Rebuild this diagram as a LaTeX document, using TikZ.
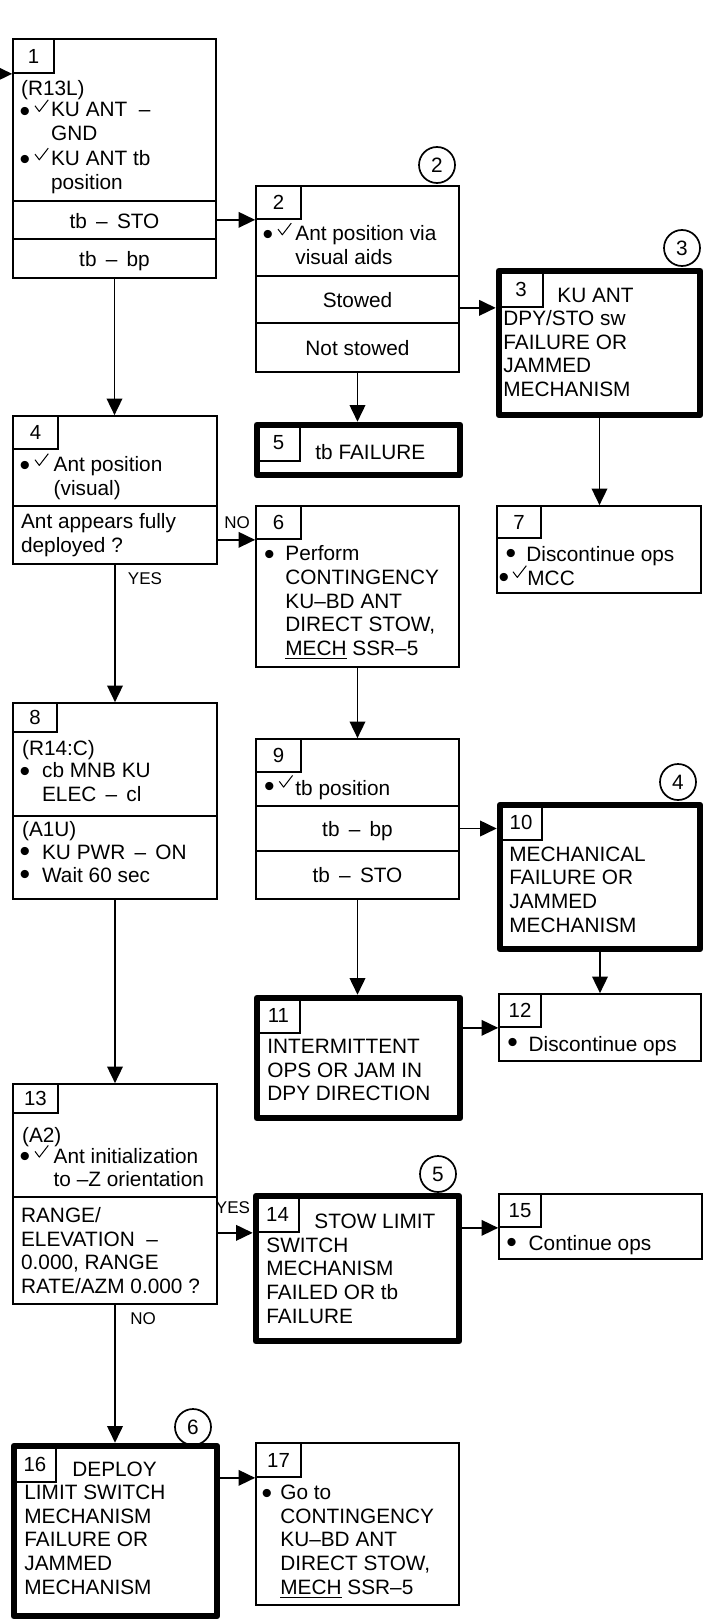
\documentclass[tikz,border=0pt]{standalone}
\usepackage{fontspec}
\setmainfont{Liberation Sans}
\usepackage{graphicx}
\usetikzlibrary{arrows.meta,fit,calc}
\newcommand\bul{\raisebox{-1.0pt}{\scalebox{1.45}{\textbullet}}}
\newcommand\dsh{\ \,–\ \,}
\tikzset{
  box/.style={draw, line width=0.85pt, inner sep=0pt},
  tbox/.style={draw, line width=3.3pt, line join=round, inner sep=0pt},
  txt/.style={anchor=north west, yshift=8.5pt, inner sep=0pt, align=left,
    font=\fontsize{10.4}{11.8}\selectfont, execute at begin node={\rule{0pt}{8.5pt}}},
  ctxt/.style={anchor=base, inner sep=0pt, font=\fontsize{10.4}{11.8}\selectfont},
  num/.style={inner sep=0pt, font=\fontsize{10.2}{12}\selectfont},
  lbl/.style={inner sep=0pt, font=\fontsize{8.5}{10}\selectfont},
  circ/.style={draw, circle, line width=0.85pt, minimum size=18pt, inner sep=0pt, font=\fontsize{10.4}{12}\selectfont},
  arr/.style={line width=0.85pt, -{Triangle[length=8.3pt,width=7.8pt]}},
  chk/.pic={\draw[line width=0.5pt, line join=round] (0,6) -- (4.3,11.7) -- (13.3,0);},
}
\begin{document}
\begin{tikzpicture}[x=0.5pt,y=-0.5pt]
\useasboundingbox (0,0) rectangle (703,1621);
\clip (0,0) rectangle (703,1621);
\fill[white] (0,0) rectangle (703,1621);

% ---- Box 1
\node[box, fit={(13,39) (216,201)}] (b1a) {};
\node[box, fit={(13,201) (216,239)}] (b1b) {};
\node[box, fit={(13,239) (216,278)}] (b1c) {};
\node[box, fit={(13,39) (54,73)}] (b1n) {};
\node[num] (b1nt) at (b1n) {1};
\node[txt] (t1a) at (20.7,95.4) {(R13L)};
\node[ctxt] (m1a) at (25,119.1) {\bul};
\pic at ([xshift=5pt,yshift=9.65pt]m1a.base) {chk};
\node[txt] (t1b) at (50.7,119.1) {KU ANT~~–\\GND};
\node[ctxt] (m1b) at (25,167.4) {\bul};
\pic at ([xshift=5pt,yshift=9.65pt]m1b.base) {chk};
\node[txt] (t1c) at (50.7,167.4) {KU ANT tb\\position};
\node[ctxt] (t1d) at (114.5,228.4) {tb\dsh STO};
\node[ctxt] (t1e) at (114.5,266) {tb\dsh bp};

% ---- Box 2
\node[box, fit={(256,186) (459,276)}] (b2a) {};
\node[box, fit={(256,276) (459,323)}] (b2b) {};
\node[box, fit={(256,323) (459,372)}] (b2c) {};
\node[box, fit={(256,186) (301,219)}] (b2n) {};
\node[num] (b2nt) at (b2n) {2};
\node[circ] (c2) at (437,165) {2};
\node[ctxt] (m2) at (268,242.4) {\bul};
\pic at ([xshift=5pt,yshift=9.65pt]m2.base) {chk};
\node[txt] (t2a) at (295,242.4) {Ant position via\\visual aids};
\node[ctxt] (t2b) at (357.5,307) {Stowed};
\node[ctxt] (t2c) at (357.5,355) {Not stowed};

% ---- Box 3
\node[tbox, fit={(499,271) (700,415)}] (b3) {};
\node[box, fit={(499,271) (543,307)}] (b3n) {};
\node[num] (b3nt) at (b3n) {3};
\node[circ] (c3) at (682,248) {3};
\node[txt] (t3) at (503,304.4) {\hspace*{27pt}KU ANT\\DPY/STO sw\\FAILURE OR\\JAMMED\\MECHANISM};

% ---- Box 4
\node[box, fit={(13,416) (217,506)}] (b4a) {};
\node[box, fit={(13,506) (217,564)}] (b4b) {};
\node[box, fit={(13,416) (58,449)}] (b4n) {};
\node[num] (b4nt) at (b4n) {4};
\node[ctxt] (m4) at (25,473) {\bul};
\pic at ([xshift=5pt,yshift=9.65pt]m4.base) {chk};
\node[txt] (t4a) at (53.3,473) {Ant position\\(visual)};
\node[txt] (t4b) at (20.7,530.4) {Ant appears fully\\deployed ?};

% ---- Box 5
\node[tbox, fit={(257,425) (460,475)}] (b5) {};
\node[box, fit={(257,425) (300,461)}] (b5n) {};
\node[num] (b5nt) at (b5n) {5};
\node[txt] (t5) at (315,459) {tb FAILURE};

% ---- Box 6
\node[box, fit={(256,506) (459,667)}] (b6) {};
\node[box, fit={(256,506) (301,539)}] (b6n) {};
\node[num] (b6nt) at (b6n) {6};
\node[ctxt] (u6) at (269.3,562.4) {\bul};
\node[txt] (t6) at (285,562.4) {Perform\\CONTINGENCY\\KU–BD ANT\\DIRECT STOW,\\\underline{MECH} SSR–5};

% ---- Box 7
\node[box, fit={(497,506) (701,593)}] (b7) {};
\node[box, fit={(497,506) (541,538)}] (b7n) {};
\node[num] (b7nt) at (b7n) {7};
\node[ctxt] (u7) at (511,561.4) {\bul};
\node[txt] (t7a) at (526,561.4) {Discontinue ops};
\node[ctxt] (m7) at (504,585) {\bul};
\pic at ([xshift=4.5pt,yshift=9.65pt]m7.base) {chk};
\node[txt] (t7b) at (527,585) {MCC};

% ---- Box 8
\node[box, fit={(13,703) (217,816)}] (b8a) {};
\node[box, fit={(13,816) (217,899)}] (b8b) {};
\node[box, fit={(13,703) (57,732)}] (b8n) {};
\node[num] (b8nt) at (b8n) {8};
\node[txt] (t8a) at (21.7,754.7) {(R14:C)};
\node[ctxt] (u8a) at (25,779.1) {\bul};
\node[txt] (t8b) at (41.7,779.1) {cb MNB KU\\ELEC\dsh cl};
\node[txt] (t8c) at (21.7,835.7) {(A1U)};
\node[ctxt] (u8b) at (25,859.1) {\bul};
\node[txt] (t8d) at (41.7,859.1) {KU PWR\dsh ON};
\node[ctxt] (u8c) at (25,882.4) {\bul};
\node[txt] (t8e) at (41.7,882.4) {Wait 60 sec};

% ---- Box 9
\node[box, fit={(256,739) (459,806)}] (b9a) {};
\node[box, fit={(256,806) (459,851)}] (b9b) {};
\node[box, fit={(256,851) (459,899)}] (b9c) {};
\node[box, fit={(256,739) (301,772)}] (b9n) {};
\node[num] (b9nt) at (b9n) {9};
\node[ctxt] (m9) at (269.3,794.7) {\bul};
\pic at ([xshift=5pt,yshift=9.65pt]m9.base) {chk};
\node[txt] (t9a) at (295,794.7) {tb position};
\node[ctxt] (t9b) at (357.5,836) {tb\dsh bp};
\node[ctxt] (t9c) at (357.5,882.4) {tb\dsh STO};

% ---- Box 10
\node[tbox, fit={(500,805) (700,949)}] (b10) {};
\node[box, fit={(500,805) (542,840)}] (b10n) {};
\node[num] (b10nt) at (b10n) {10};
\node[circ] (c4) at (678,782) {4};
\node[txt] (t10) at (509,863.4) {MECHANICAL\\FAILURE OR\\JAMMED\\MECHANISM};

% ---- Box 11
\node[tbox, fit={(257,998) (460,1118)}] (b11) {};
\node[box, fit={(257,998) (300,1033)}] (b11n) {};
\node[num] (b11nt) at (b11n) {11};
\node[txt] (t11) at (267,1055.7) {INTERMITTENT\\OPS OR JAM IN\\DPY DIRECTION};

% ---- Box 12
\node[box, fit={(499,994) (701,1061)}] (b12) {};
\node[box, fit={(499,994) (541,1027)}] (b12n) {};
\node[num] (b12nt) at (b12n) {12};
\node[ctxt] (u12) at (512.7,1050.7) {\bul};
\node[txt] (t12) at (528.3,1050.7) {Discontinue ops};

% ---- Box 13
\node[box, fit={(13,1084) (217,1197)}] (b13a) {};
\node[box, fit={(13,1197) (217,1304)}] (b13b) {};
\node[box, fit={(13,1084) (58,1113)}] (b13n) {};
\node[num] (b13nt) at (b13n) {13};
\node[txt] (t13a) at (21.7,1142.4) {(A2)};
\node[ctxt] (m13) at (25,1164.7) {\bul};
\pic at ([xshift=5pt,yshift=9.65pt]m13.base) {chk};
\node[txt] (t13b) at (53.3,1164.7) {Ant initialization\\to –Z orientation};
\node[txt] (t13c) at (20.7,1224.1) {RANGE/\\ELEVATION~~–\\0.000, RANGE\\RATE/AZM 0.000 ?};

% ---- Box 14
\node[tbox, fit={(256,1196) (459,1341)}] (b14) {};
\node[box, fit={(256,1196) (299,1232)}] (b14n) {};
\node[num] (b14nt) at (b14n) {14};
\node[circ] (c5) at (438,1174) {5};
\node[txt] (t14) at (266,1230.7) {\hspace*{24pt}STOW LIMIT\\SWITCH\\MECHANISM\\FAILED OR tb\\FAILURE};

% ---- Box 15
\node[box, fit={(499,1194) (702,1259)}] (b15) {};
\node[box, fit={(499,1194) (541,1227)}] (b15n) {};
\node[num] (b15nt) at (b15n) {15};
\node[ctxt] (u15) at (511.7,1250.1) {\bul};
\node[txt] (t15) at (528.3,1250.1) {Continue ops};

% ---- Box 16
\node[tbox, fit={(14,1446) (217,1616)}] (b16) {};
\node[box, fit={(14,1446) (56,1482)}] (b16n) {};
\node[num] (b16nt) at (b16n) {16};
\node[circ] (c6) at (193,1427) {6};
\node[txt] (t16) at (24,1478.1) {\hspace*{24pt}DEPLOY\\LIMIT SWITCH\\MECHANISM\\FAILURE OR\\JAMMED\\MECHANISM};

% ---- Box 17
\node[box, fit={(256,1443) (459,1605)}] (b17) {};
\node[box, fit={(256,1443) (301,1477)}] (b17n) {};
\node[num] (b17nt) at (b17n) {17};
\node[ctxt] (u17) at (267,1501.7) {\bul};
\node[txt] (t17) at (280,1501.7) {Go to\\CONTINGENCY\\KU–BD ANT\\DIRECT STOW,\\\underline{MECH} SSR–5};

% ---- labels
\node[lbl] (lno1) at (237,523) {NO};
\node[lbl] (lyes1) at (145,579) {YES};
\node[lbl] (lyes2) at (233,1208) {YES};
\node[lbl] (lno2) at (143,1319) {NO};

% ---- connectors
\coordinate (e0) at (-12,0);
\draw[arr] (e0 |- b1n.south) -- (b1a.west |- b1n.south);
\draw[arr] (b1b.east |- b2n.south) -- (b2n.south west);
\draw[arr] (b1c.south) -- (b1c.south |- b4a.north);
\draw[arr] (b2c.south) -- (b2c.south |- b5.north);
\draw[arr] (b2b.east |- b3n.south) -- (b3.west |- b3n.south);
\draw[arr] (b3.south) -- (b3.south |- b7.north);
\draw[arr] (b4b.east |- b6n.south) -- (b6n.south west);
\draw[arr] (b4b.south) -- (b4b.south |- b8a.north);
\draw[arr] (b6.south) -- (b6.south |- b9a.north);
\draw[arr] (b8b.south) -- (b8b.south |- b13a.north);
\draw[arr] (b9b.east) -- (b9b.east -| b10.west);
\draw[arr] (b9c.south) -- (b9c.south |- b11.north);
\draw[arr] (b10.south) -- (b10.south |- b12.north);
\draw[arr] (b11.east |- b12n.south) -- (b12n.south west);
\draw[arr] (b13b.south) -- (b13b.south |- b16.north);
\draw[arr] (b13b.east |- b14n.south) -- (b14.west |- b14n.south);
\draw[arr] (b14.east |- b15n.south) -- (b15n.south west);
\draw[arr] (b16.east |- b17n.south) -- (b17n.south west);
\end{tikzpicture}
\end{document}
